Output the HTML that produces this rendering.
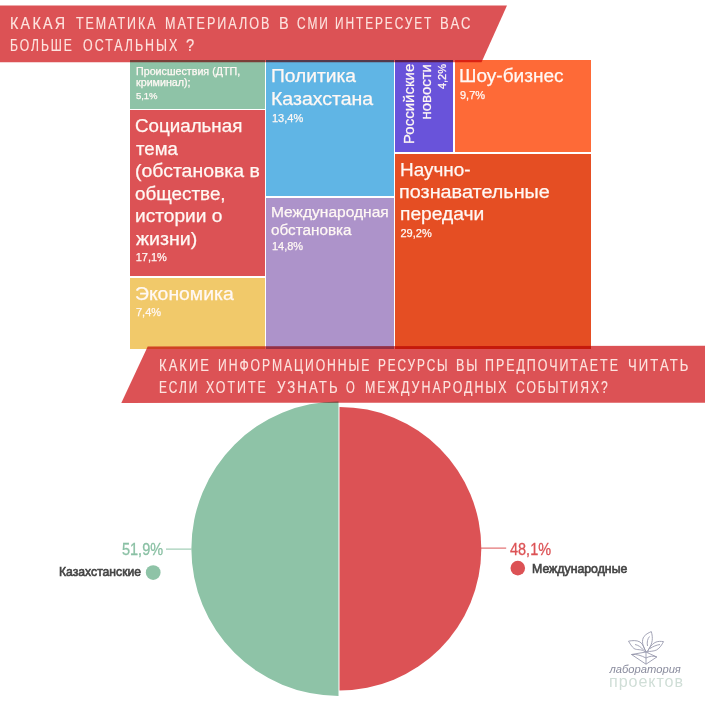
<!DOCTYPE html>
<html><head><meta charset="utf-8">
<style>
*{margin:0;padding:0;box-sizing:border-box}
html,body{width:705px;height:705px;overflow:hidden;background:#fff}
body{position:relative;font-family:"Liberation Sans",sans-serif}
.a{position:absolute}
.box{position:absolute}
.lbl{position:absolute;color:#fff8f4;white-space:nowrap;transform-origin:0 0;-webkit-text-stroke:0.25px #fff8f4}
.pct{font-size:11px;line-height:11px}
.pl{position:absolute;white-space:nowrap;transform-origin:0 0;transform:scaleX(0.96)}
.bw{position:absolute;color:#fde3df;-webkit-text-stroke:0.15px #fde3df;font-size:16.3px;line-height:16.3px;white-space:nowrap;transform-origin:0 0;letter-spacing:2.6px}
.ban{position:absolute;mix-blend-mode:multiply}
</style></head><body>

<!-- treemap -->
<div class="box" style="left:130.3px;top:59.9px;width:134.5px;height:48.9px;background:#8ec3a7"></div>
<div class="box" style="left:130.3px;top:110.3px;width:134.5px;height:165.7px;background:#dc5255"></div>
<div class="box" style="left:130.3px;top:277.7px;width:134.5px;height:70.9px;background:#f1c96a"></div>
<div class="box" style="left:266.4px;top:59.9px;width:127.6px;height:135.9px;background:#60b5e5"></div>
<div class="box" style="left:266.4px;top:197.5px;width:127.6px;height:151.1px;background:#ad93ca"></div>
<div class="box" style="left:395.1px;top:59.9px;width:58.2px;height:92.1px;background:#6953da"></div>
<div class="box" style="left:455px;top:59.9px;width:135.6px;height:92.1px;background:#fe6a37"></div>
<div class="box" style="left:395.1px;top:153.6px;width:195.5px;height:195px;background:#e54e23"></div>

<!-- treemap labels -->
<div class="lbl" style="left:135.22px;top:116.86px;font-size:18px;line-height:18px;transform:scaleX(1.0420)">Социальная</div>
<div class="lbl" style="left:136.00px;top:139.51px;font-size:18px;line-height:18px;transform:scaleX(1.0356)">тема</div>
<div class="lbl" style="left:134.72px;top:162.16px;font-size:18px;line-height:18px;transform:scaleX(1.0798)">(обстановка в</div>
<div class="lbl" style="left:135.28px;top:184.81px;font-size:18px;line-height:18px;transform:scaleX(1.0466)">обществе,</div>
<div class="lbl" style="left:134.74px;top:207.46px;font-size:18px;line-height:18px;transform:scaleX(1.0625)">истории о</div>
<div class="lbl" style="left:136.07px;top:230.11px;font-size:18px;line-height:18px;transform:scaleX(1.0888)">жизни)</div>
<div class="lbl" style="left:135.19px;top:284.96px;font-size:18px;line-height:18px;transform:scaleX(1.0762)">Экономика</div>
<div class="lbl" style="left:270.67px;top:67.46px;font-size:18px;line-height:18px;transform:scaleX(1.0667)">Политика</div>
<div class="lbl" style="left:270.65px;top:90.16px;font-size:18px;line-height:18px;transform:scaleX(1.0831)">Казахстана</div>
<div class="lbl" style="left:458.68px;top:67.16px;font-size:18px;line-height:18px;transform:scaleX(1.0571)">Шоу-бизнес</div>
<div class="lbl" style="left:399.69px;top:160.86px;font-size:18px;line-height:18px;transform:scaleX(1.0498)">Научно-</div>
<div class="lbl" style="left:399.40px;top:183.16px;font-size:18px;line-height:18px;transform:scaleX(1.1017)">познавательные</div>
<div class="lbl" style="left:399.93px;top:205.36px;font-size:18px;line-height:18px;transform:scaleX(1.0675)">передачи</div>
<div class="lbl" style="left:270.90px;top:204.1px;font-size:15.5px;line-height:15.5px;transform:scaleX(1.0026)">Международная</div>
<div class="lbl" style="left:271.41px;top:222.0px;font-size:15.5px;line-height:15.5px;transform:scaleX(0.9853)">обстановка</div>
<div class="lbl" style="left:135.9px;top:65.9px;font-size:10px;line-height:11px;transform:scaleX(1.07)">Происшествия (ДТП,<br>криминал);</div>
<div class="lbl pct" style="left:135.9px;top:90.9px;font-size:9.5px;line-height:9.5px">5,1%</div>
<div class="lbl pct" style="left:135.7px;top:252.4px">17,1%</div>
<div class="lbl pct" style="left:136px;top:307.4px">7,4%</div>
<div class="lbl pct" style="left:272px;top:112.7px">13,4%</div>
<div class="lbl pct" style="left:271.9px;top:240.9px">14,8%</div>
<div class="lbl pct" style="left:460px;top:89.7px">9,7%</div>
<div class="lbl pct" style="left:400.5px;top:228.2px">29,2%</div>
<!-- rotated -->
<div class="lbl" style="left:400.1px;top:144px;transform:rotate(-90deg);font-size:15px;line-height:17px;text-align:right;width:80px">Российские<br>новости</div>
<div class="lbl pct" style="left:436.6px;top:144px;transform:rotate(-90deg);text-align:right;width:80px">4,2%</div>

<!-- pie -->
<svg class="a" style="left:0;top:0" width="705" height="705" viewBox="0 0 705 705">
<path d="M338.5,401.5 A147.2,147.2 0 0 0 338.5,695.9 Z" fill="#8ec3a7"/>
<path d="M339.5,406.9 A141.8,141.8 0 0 1 339.5,690.5 Z" fill="#dc5255"/>
<line x1="166" y1="549.1" x2="191.5" y2="549.1" stroke="#8ec3a7" stroke-width="1"/>
<line x1="481" y1="548.1" x2="506.2" y2="548.1" stroke="#dc5255" stroke-width="1"/>
<circle cx="153.2" cy="572.6" r="7.4" fill="#8ec3a7"/>
<circle cx="517.8" cy="568.1" r="7.3" fill="#dc5255"/>
</svg>
<!-- banner 1 -->
<svg class="ban" style="left:0;top:0" width="705" height="705" viewBox="0 0 705 705">
<polygon points="0,5.5 507,5.5 481.5,62.3 0,62.3" fill="#dc5255"/>
<polygon points="121.3,402.9 147.7,346.4 705,345.7 705,402.7" fill="#dc5255"/>
</svg>
<!-- btext -->
<div class="bw" style="left:9.50px;top:14.60px;transform:scaleX(0.8780)">КАКАЯ</div>
<div class="bw" style="left:75.71px;top:14.60px;transform:scaleX(0.7635)">ТЕМАТИКА</div>
<div class="bw" style="left:164.94px;top:14.60px;transform:scaleX(0.7715)">МАТЕРИАЛОВ</div>
<div class="bw" style="left:278.89px;top:14.60px;transform:scaleX(0.8914)">В</div>
<div class="bw" style="left:296.75px;top:14.60px;transform:scaleX(0.7325)">СМИ</div>
<div class="bw" style="left:334.79px;top:14.60px;transform:scaleX(0.7317)">ИНТЕРЕСУЕТ</div>
<div class="bw" style="left:439.99px;top:14.60px;transform:scaleX(0.8056)">ВАС</div>
<div class="bw" style="left:10.17px;top:37.10px;transform:scaleX(0.7446)">БОЛЬШЕ</div>
<div class="bw" style="left:83.13px;top:37.10px;transform:scaleX(0.7625)">ОСТАЛЬНЫХ</div>
<div class="bw" style="left:185.82px;top:37.10px;transform:scaleX(0.9032)">?</div>
<div class="bw" style="left:159.00px;top:356.60px;transform:scaleX(0.7967)">КАКИЕ</div>
<div class="bw" style="left:217.87px;top:356.60px;transform:scaleX(0.7472)">ИНФОРМАЦИОННЫЕ</div>
<div class="bw" style="left:378.49px;top:356.60px;transform:scaleX(0.7271)">РЕСУРСЫ</div>
<div class="bw" style="left:456.44px;top:356.60px;transform:scaleX(0.7686)">ВЫ</div>
<div class="bw" style="left:484.85px;top:356.60px;transform:scaleX(0.7634)">ПРЕДПОЧИТАЕТЕ</div>
<div class="bw" style="left:627.50px;top:356.60px;transform:scaleX(0.8027)">ЧИТАТЬ</div>
<div class="bw" style="left:159.49px;top:379.00px;transform:scaleX(0.7317)">ЕСЛИ</div>
<div class="bw" style="left:205.62px;top:379.00px;transform:scaleX(0.7625)">ХОТИТЕ</div>
<div class="bw" style="left:276.60px;top:379.00px;transform:scaleX(0.8095)">УЗНАТЬ</div>
<div class="bw" style="left:345.88px;top:379.00px;transform:scaleX(0.6933)">О</div>
<div class="bw" style="left:365.25px;top:379.00px;transform:scaleX(0.7626)">МЕЖДУНАРОДНЫХ</div>
<div class="bw" style="left:516.04px;top:379.00px;transform:scaleX(0.7434)">СОБЫТИЯХ?</div>
<!-- /btext -->

<div class="pl" style="left:122.3px;top:541.3px;font-size:16.3px;line-height:16.3px;color:#8ac0a4;-webkit-text-stroke:0.3px #8ac0a4;transform:scaleX(0.89)">51,9%</div>
<div class="pl" style="left:509.6px;top:541.0px;font-size:16.3px;line-height:16.3px;color:#dc5255;-webkit-text-stroke:0.3px #dc5255;transform:scaleX(0.89)">48,1%</div>
<div class="pl" style="left:59px;top:566.2px;font-size:12px;line-height:12px;color:#444;-webkit-text-stroke:0.6px #444;transform:scaleX(1.015)">Казахстанские</div>
<div class="pl" style="left:532.2px;top:562.7px;font-size:12px;line-height:12px;color:#444;-webkit-text-stroke:0.6px #444;transform:scaleX(1.025)">Международные</div>

<!-- logo -->
<svg class="a" style="left:0;top:0" width="705" height="705" viewBox="0 0 705 705" fill="none" stroke="#9395aa" stroke-width="0.85" stroke-linejoin="round">
<path d="M646.5,652 C642,646 641.5,640 644,636.5 C646.5,633.5 649.5,632.5 651.3,631.6 C652.6,636 653,641 650.5,646 C649.3,648.5 648,650.5 646.5,652 Z"/>
<path d="M647.5,646 C646.8,642 647.5,639 649.5,636.5"/>
<path d="M645.5,652 C641,648.5 637,650.5 634,648.5 C631.5,646.5 630,643.5 628.5,641.2 C632,640.5 636.5,640 640,642 C643,644 644.5,648 645.5,652 Z"/>
<path d="M635,644.5 C638,645 641,647 643.5,650"/>
<path d="M647.5,652 C649,648 651.5,644.5 655,642.5 C658,641 661,641.3 663.5,641.6 C662,644.5 660,648 656.5,650 C653.5,651.5 650,651 647.5,652 Z"/>
<path d="M650,648.5 C653,646.5 656.5,645 660,644.5"/>
<path d="M646,652 L631.5,654.5 L646,664.2 L656.8,657 L646,652 Z"/>
<path d="M646,652 L646,664.2"/>
<path d="M631.5,654.5 C637,654 641,655.5 646,658"/>
<path d="M656.8,657 C653,655.5 650,656 646,658"/>
</svg>
<div class="pl" style="left:609.5px;top:663px;font-size:11.2px;line-height:12px;font-style:italic;color:#8a8c9e;transform:scaleX(1.0)">лаборатория</div>
<div class="pl" style="left:608.5px;top:673.5px;font-size:15.8px;line-height:16px;color:#d0ded7;letter-spacing:0.9px;transform:scaleX(1.02)">проектов</div>
</body></html>
